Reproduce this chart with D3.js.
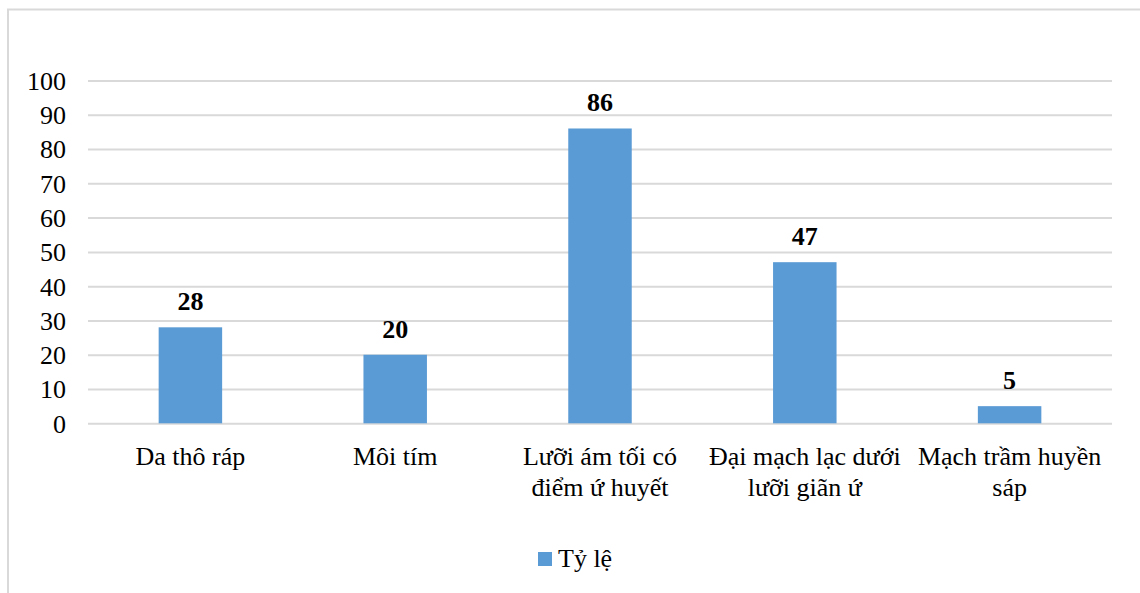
<!DOCTYPE html>
<html lang="vi">
<head>
<meta charset="utf-8">
<title>Tỷ lệ</title>
<script src="https://d3js.org/d3.v7.min.js"></script>
<style>
  body { margin: 0; background: #fff; }
  svg { display: block; }
  text { font-family: "Liberation Serif", "Times New Roman", "DejaVu Serif", serif; fill: #000; }
  .grid line { stroke: #d9d9d9; stroke-width: 2; }
  .grid .domain { display: none; }
  .yaxis text { font-size: 26px; }
  .yaxis .domain, .yaxis line { display: none; }
</style>
</head>
<body>
<script>
var categories = [
  ["Da thô ráp"],
  ["Môi tím"],
  ["Lưỡi ám tối có", "điểm ứ huyết"],
  ["Đại mạch lạc dưới", "lưỡi giãn ứ"],
  ["Mạch trầm huyền", "sáp"]
];
var values = [28, 20, 86, 47, 5];
var yTicks = [0, 10, 20, 30, 40, 50, 60, 70, 80, 90, 100];
var seriesName = "Tỷ lệ";

var width = 1140, height = 593;
var margin = {left: 88, right: 28, top: 81, bottom: 170};
var color = "#5b9bd5";

var svg = d3.select("body").append("svg")
    .attr("width", width)
    .attr("height", height);

// frame
svg.append("path")
    .attr("d", "M8,593 V9.5 H1140")
    .attr("fill", "none")
    .attr("stroke", "#d9d9d9")
    .attr("stroke-width", 2);

var x = d3.scaleBand()
    .domain(d3.range(categories.length))
    .range([margin.left, width - margin.right])
    .paddingInner(0.69)
    .paddingOuter(0.345);

var y = d3.scaleLinear()
    .domain([0, 100])
    .range([height - margin.bottom + 0.3, margin.top - 0.5]);

svg.append("g")
    .attr("class", "grid")
    .attr("transform", "translate(" + margin.left + ",0)")
    .call(d3.axisLeft(y).tickValues(yTicks).tickSize(-(width - margin.left - margin.right)).tickFormat(""));

svg.append("g")
    .attr("class", "yaxis")
    .attr("transform", "translate(66,0)")
    .call(d3.axisLeft(y).tickValues(yTicks).tickSize(0).tickPadding(0))
    .selectAll("text").attr("dy", "0.34em");

svg.append("g").selectAll("rect")
    .data(values)
    .enter().append("rect")
    .attr("x", function(d, i) { return x(i); })
    .attr("width", x.bandwidth())
    .attr("y", function(d) { return y(d); })
    .attr("height", function(d) { return y(0) - y(d); })
    .attr("fill", color);

svg.append("g").selectAll("text")
    .data(values)
    .enter().append("text")
    .attr("x", function(d, i) { return x(i) + x.bandwidth() / 2; })
    .attr("y", function(d) { return y(d) - 17; })
    .attr("text-anchor", "middle")
    .attr("font-size", 26)
    .attr("font-weight", "bold")
    .text(function(d) { return d; });

var labels = svg.append("g").selectAll("text")
    .data(categories)
    .enter().append("text")
    .attr("text-anchor", "middle")
    .attr("font-size", 26)
    .attr("transform", function(d, i) { return "translate(" + (x(i) + x.bandwidth() / 2) + ",0)"; });

labels.selectAll("tspan")
    .data(function(d) { return d; })
    .enter().append("tspan")
    .attr("x", 0)
    .attr("y", function(d, j) { return 465 + j * 31; })
    .text(function(d) { return d; });

var legend = svg.append("g").attr("transform", "translate(538,552)");
legend.append("rect")
    .attr("width", 14)
    .attr("height", 14)
    .attr("fill", color);
legend.append("text")
    .attr("x", 20)
    .attr("y", 15)
    .attr("font-size", 26)
    .text(seriesName);
</script>
</body>
</html>
